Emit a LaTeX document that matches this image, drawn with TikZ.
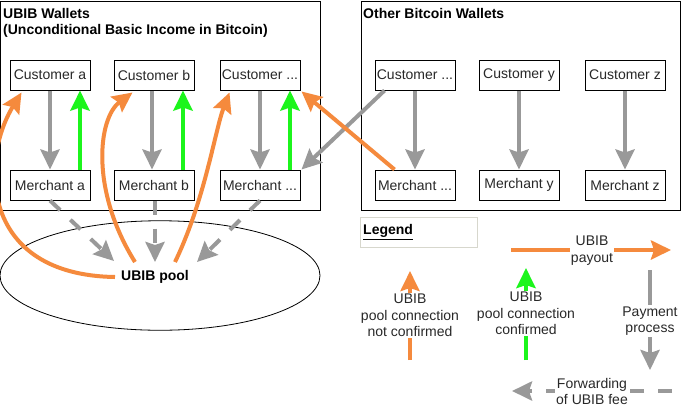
\documentclass[tikz,border=0pt]{standalone}
\usepackage{fontspec}
\setmainfont{Liberation Sans}
\usetikzlibrary{arrows.meta,shapes.geometric}
\definecolor{ugray}{RGB}{153,153,153}
\definecolor{uorange}{RGB}{245,138,61}
\definecolor{ugreen}{RGB}{28,245,28}
\definecolor{lgborder}{RGB}{215,215,205}
\definecolor{btext}{RGB}{40,40,40}
\begin{document}
\begin{tikzpicture}[x=1pt,y=-1pt,
  box/.style={draw=black, line width=1pt, minimum width=80pt, minimum height=30pt, inner sep=0pt, font=\fontsize{14}{16.5}\selectfont, text=btext},
  container/.style={draw=black, line width=1pt},
  title/.style={font=\fontsize{14}{16}\selectfont\bfseries, align=left, inner sep=0pt, anchor=north west},
  lbl/.style={font=\fontsize{14}{16.5}\selectfont, align=center, fill=white, inner sep=1pt, text=btext},
  tip/.style={-{Stealth[length=20pt,width=19pt,inset=3pt]}},
  grayarrow/.style={tip, draw=ugray, line width=4pt},
  greenarrow/.style={tip, draw=ugreen, line width=4.5pt},
  orangearrow/.style={tip, draw=uorange, line width=4pt},
  dasharrow/.style={tip, draw=ugray, line width=4pt, dash pattern=on 14pt off 14pt}
]
\useasboundingbox (0,0) rectangle (682,407);
\fill[white] (0,0) rectangle (682,407);

% containers
\draw[container] (0.5,1) rectangle (320,210);
\draw[container] (361,1) rectangle (680,210);
\node[title] (ttl1) at (3,8.1) {UBIB Wallets\\(Unconditional Basic Income in Bitcoin)};
\node[title] (ttl2) at (363,8.1) {Other Bitcoin Wallets};

% pool
\node[draw=black, line width=0.8pt, ellipse, minimum width=320pt, minimum height=109.5pt, inner sep=0pt] (pool) at (160,275.5) {};
\node[font=\fontsize{14}{16}\selectfont\bfseries, inner sep=0pt] (pooltxt) at (155,277) {UBIB pool};

% boxes
\node[box] (ca) at (50,75) {Customer a};
\node[box] (cb) at (154,75) {Customer b};
\node[box] (cd) at (260,75) {Customer ...};
\node[box] (ma) at (50,185) {Merchant a};
\node[box] (mb) at (154,185) {Merchant b};
\node[box] (md) at (260,185) {Merchant ...};
\node[box] (cx) at (415,75) {Customer ...};
\node[box] (cy) at (519,75) {Customer y};
\node[box] (cz) at (625,75) {Customer z};
\node[box] (mx) at (415,185) {Merchant ...};
\node[box] (my) at (519,185) {Merchant y};
\node[box] (mz) at (625,185) {Merchant z};

% customer -> merchant
\draw[grayarrow] (ca.south) -- (ma.north);
\draw[grayarrow] ([xshift=-2pt]cb.south) -- ([xshift=-2pt]mb.north);
\draw[grayarrow] (cd.south) -- (md.north);
\draw[grayarrow] (cx.south) -- (mx.north);
\draw[grayarrow] (cy.south) -- (my.north);
\draw[grayarrow] (cz.south) -- (mz.north);
% confirmed
\draw[greenarrow] ([xshift=30pt]ma.north) -- ([xshift=30pt]ca.south);
\draw[greenarrow] ([xshift=29pt]mb.north) -- ([xshift=29pt]cb.south);
\draw[greenarrow] ([xshift=30pt]md.north) -- ([xshift=30pt]cd.south);
% cross
\draw[grayarrow] ([xshift=10pt]cx.south west) -- ([xshift=1pt]md.north east);
\draw[orangearrow] ([xshift=20pt]mx.north west) -- ([xshift=1pt,yshift=-1pt]cd.south east);

% merchants -> pool
\coordinate (pa) at (114,261);
\coordinate (pb) at (155,262);
\coordinate (pd) at (197,262);
\draw[dasharrow] (ma.south) -- (pa);
\draw[dasharrow] ([xshift=1pt]mb.south) -- (pb);
\draw[dasharrow] (md.south) -- (pd);

% payouts
\coordinate (oa) at (115,277);
\coordinate (ob) at (135,262);
\coordinate (od) at (175,262);
\draw[orangearrow] (oa) .. controls (-20,275) and (-20,160) .. ([xshift=12pt,yshift=-2pt]ca.south west);
\draw[orangearrow] (ob) .. controls (90,190) and (98,118) .. ([xshift=19pt,yshift=-2pt]cb.south west);
\draw[orangearrow] (od) .. controls (205,200) and (215,130) .. ([xshift=10pt,yshift=-2pt]cd.south west);

% legend
\node[draw=lgborder, line width=0.8pt, minimum width=117pt, minimum height=30pt, anchor=north west, inner sep=0pt] (lgbox) at (360,217) {};
\node[font=\fontsize{14}{16}\selectfont\bfseries, anchor=west, inner sep=0pt] (lgtxt) at (363,232) {\underline{Legend}};

\coordinate (l1a) at (511,250);
\coordinate (l1b) at (671,250);
\draw[orangearrow] (l1a) -- (l1b);
\node[lbl] (l1) at (592,250.5) {UBIB\\payout};

\coordinate (l2a) at (410,360);
\coordinate (l2b) at (410,271);
\draw[orangearrow] (l2a) -- (l2b);
\node[lbl] (l2) at (410,315.5) {UBIB\\pool connection\\not confirmed};

\coordinate (l3a) at (526,360);
\coordinate (l3b) at (526,268);
\draw[greenarrow] (l3a) -- (l3b);
\node[lbl] (l3) at (526,313.5) {UBIB\\pool connection\\confirmed};

\coordinate (l4a) at (650,270);
\coordinate (l4b) at (650,370);
\draw[grayarrow] (l4a) -- (l4b);
\node[lbl] (l4) at (650,321) {Payment\\process};

\coordinate (l5a) at (672,391);
\coordinate (l5b) at (512,391);
\draw[dasharrow] (l5a) -- (l5b);
\node[lbl] (l5) at (592,391.5) {Forwarding\\of UBIB fee};
\end{tikzpicture}
\end{document}
